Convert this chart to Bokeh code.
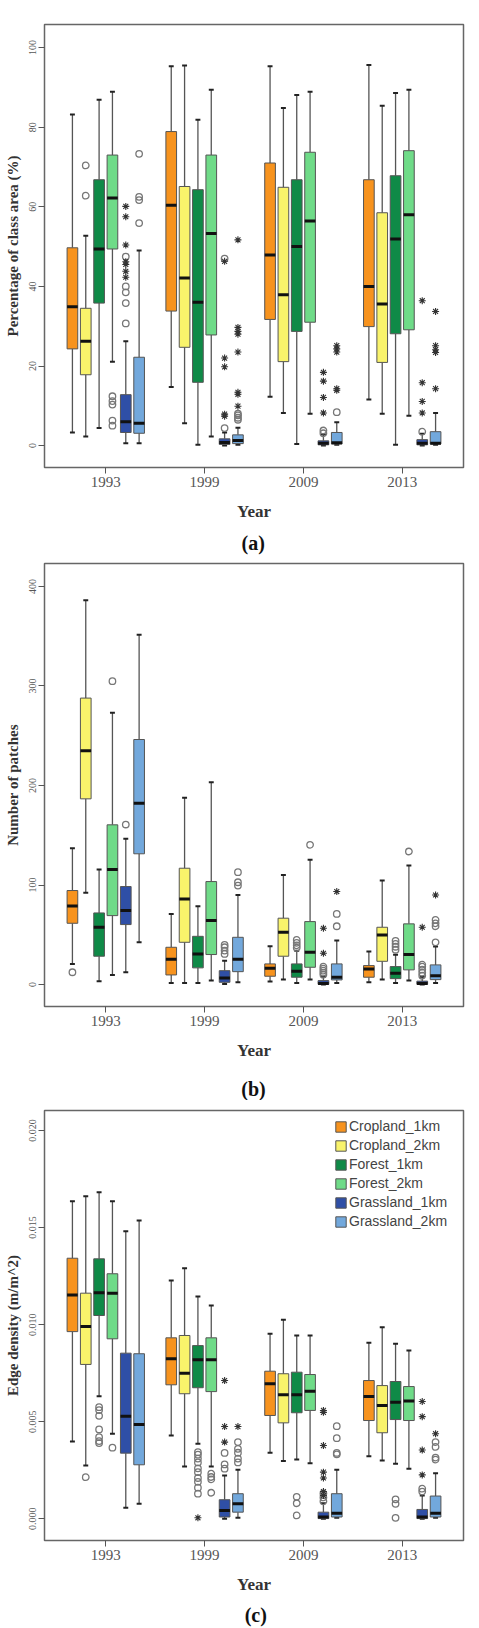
from bokeh.plotting import figure
from bokeh.models import ColumnDataSource, FixedTicker, Legend, LegendItem, Range1d, NumeralTickFormatter
from bokeh.core.properties import value
from bokeh.layouts import column
from bokeh.embed import file_html
from bokeh.resources import INLINE

YEARS = ["1993", "1999", "2009", "2013"]
SERIES = ["Cropland_1km", "Cropland_2km", "Forest_1km", "Forest_2km", "Grassland_1km", "Grassland_2km"]
COLORS = ["#F7931E", "#F9F36B", "#0F8A47", "#6FDB88", "#2F4FA6", "#72A8DC"]
CAPTIONS = ["(a)", "(b)", "(c)"]

# ---------------- Panel (a): Percentage of class area (%) ----------------
# rows = series, columns = years
A_LOW = [[3.3, 14.7, 12.3, 11.6], [2.3, 5.6, 8.2, 8.0], [4.4, 0.2, 0.4, 0.2],
         [21.1, 2.3, 8.0, 7.5], [0.6, 0.0, 0.0, 0.0], [0.6, 0.2, 0.2, 0.2]]
A_Q1 = [[24.3, 33.8, 31.7, 29.9], [17.8, 24.7, 21.1, 20.9], [35.8, 15.9, 28.7, 28.1],
        [49.4, 27.8, 31.0, 29.1], [3.3, 0.3, 0.2, 0.2], [3.1, 0.5, 0.4, 0.4]]
A_MED = [[34.9, 60.4, 47.9, 40.0], [26.2, 42.1, 37.9, 35.6], [49.4, 36.0, 50.0, 51.9],
         [62.2, 53.3, 56.4, 58.0], [6.0, 0.8, 0.6, 0.6], [5.6, 1.3, 0.7, 0.6]]
A_Q3 = [[49.7, 78.9, 71.0, 66.8], [34.5, 65.1, 64.9, 58.5], [66.8, 64.3, 66.8, 67.8],
        [73.0, 73.0, 73.7, 74.1], [12.8, 1.7, 1.2, 1.5], [22.2, 2.7, 3.3, 3.5]]
A_HIGH = [[83.2, 95.3, 95.3, 95.6], [52.7, 95.5, 84.8, 85.4], [86.9, 81.9, 88.1, 88.6],
          [88.9, 89.4, 88.9, 89.4], [26.2, 3.3, 2.8, 3.0], [49.0, 4.5, 5.9, 8.2]]
# outliers: (series index, year index, value)
A_CIRCLES = [(1, 0, 70.4), (1, 0, 62.8),
             (3, 0, 12.4), (3, 0, 11.2), (3, 0, 10.3), (3, 0, 6.3), (3, 0, 5.0),
             (4, 0, 30.7), (4, 0, 35.8), (4, 0, 38.5), (4, 0, 40.0), (4, 0, 47.5),
             (5, 0, 73.3), (5, 0, 62.5), (5, 0, 61.7), (5, 0, 55.9),
             (4, 1, 4.4), (4, 1, 47.0),
             (5, 1, 6.5), (5, 1, 7.0), (5, 1, 7.6), (5, 1, 8.0),
             (4, 2, 3.1), (4, 2, 3.8), (5, 2, 8.4), (4, 3, 3.5)]
A_STARS = [(4, 0, 42.3), (4, 0, 43.8), (4, 0, 45.5), (4, 0, 46.2), (4, 0, 50.4), (4, 0, 57.5), (4, 0, 60.1),
           (4, 1, 7.4), (4, 1, 7.9), (4, 1, 19.8), (4, 1, 22.0), (4, 1, 46.3),
           (5, 1, 9.9), (5, 1, 12.9), (5, 1, 13.4), (5, 1, 23.5), (5, 1, 28.0), (5, 1, 28.7), (5, 1, 29.7), (5, 1, 51.7),
           (4, 2, 8.2), (4, 2, 12.1), (4, 2, 16.2), (4, 2, 18.4),
           (5, 2, 13.9), (5, 2, 14.3), (5, 2, 23.5), (5, 2, 24.3), (5, 2, 25.1),
           (4, 3, 8.2), (4, 3, 11.1), (4, 3, 15.8), (4, 3, 36.4),
           (5, 3, 14.3), (5, 3, 23.4), (5, 3, 24.1), (5, 3, 25.1), (5, 3, 33.7)]
A_TICKS = [0, 20, 40, 60, 80, 100]

# ---------------- Panel (b): Number of patches ----------------
B_LOW = [[20.8, 1.7, 3.0, 2.3], [92.2, 1.7, 5.0, 5.0], [3.4, 1.7, 1.7, 1.7],
         [9.7, 4.0, 5.0, 4.0], [12.4, 0.5, 0.0, 0.0], [42.5, 2.3, 1.7, 1.7]]
B_Q1 = [[61.6, 9.7, 8.4, 7.4], [186.6, 42.5, 28.5, 23.4], [28.5, 16.8, 7.4, 6.0],
        [69.3, 30.2, 17.4, 14.8], [60.3, 2.3, 0.3, 0.3], [131.4, 13.0, 4.7, 5.0]]
B_MED = [[79.0, 25.5, 16.4, 15.7], [235.0, 86.1, 52.6, 49.9], [57.6, 30.8, 13.4, 11.4],
         [115.6, 64.3, 32.5, 30.2], [74.4, 6.7, 1.0, 1.0], [182.2, 25.5, 7.4, 9.0]]
B_Q3 = [[94.5, 37.5, 20.8, 19.1], [287.8, 116.9, 66.7, 57.6], [72.0, 48.5, 20.8, 18.1],
        [160.5, 103.5, 63.3, 61.0], [98.5, 14.0, 4.0, 3.5], [246.2, 47.5, 20.8, 19.8]]
B_HIGH = [[137.0, 71.0, 38.5, 33.2], [386.0, 187.6, 110.0, 104.5], [115.6, 78.7, 34.0, 30.0],
          [273.0, 203.3, 125.3, 119.6], [146.4, 24.0, 8.0, 8.0], [351.4, 90.1, 44.2, 38.2]]
B_CIRCLES = [(0, 0, 12.4), (3, 0, 304.8), (4, 0, 160.8),
             (4, 1, 30.8), (4, 1, 34.2), (4, 1, 37.5), (4, 1, 39.9),
             (5, 1, 99.5), (5, 1, 102.8), (5, 1, 112.9),
             (2, 2, 37.0), (2, 2, 39.5), (2, 2, 42.0), (2, 2, 44.9), (3, 2, 140.4),
             (4, 2, 10.0), (4, 2, 12.0), (4, 2, 14.0), (4, 2, 16.0), (4, 2, 18.0),
             (5, 2, 58.6), (5, 2, 71.0),
             (2, 3, 35.0), (2, 3, 38.0), (2, 3, 41.0), (2, 3, 44.0), (3, 3, 133.7),
             (4, 3, 9.0), (4, 3, 12.0), (4, 3, 15.0), (4, 3, 18.0), (4, 3, 20.0),
             (5, 3, 42.5), (5, 3, 58.6), (5, 3, 61.6), (5, 3, 65.0)]
B_STARS = [(4, 2, 31.5), (4, 2, 56.6), (5, 2, 93.5), (4, 3, 57.6), (5, 3, 90.0)]
B_TICKS = [0, 100, 200, 300, 400]

# ---------------- Panel (c): Edge density (m/m^2) ----------------
C_LOW = [[0.00398, 0.00429, 0.00340, 0.00322], [0.00274, 0.00269, 0.00297, 0.00300],
         [0.00631, 0.00386, 0.00305, 0.00283], [0.00438, 0.00269, 0.00286, 0.00258],
         [0.00057, 0.00000, 0.00000, 0.00000], [0.00077, 0.00005, 0.00005, 0.00005]]
C_Q1 = [[0.00964, 0.00690, 0.00532, 0.00506], [0.00795, 0.00644, 0.00494, 0.00443],
        [0.01047, 0.00675, 0.00546, 0.00511], [0.00927, 0.00655, 0.00558, 0.00506],
        [0.00338, 0.00009, 0.00001, 0.00001], [0.00278, 0.00034, 0.00009, 0.00009]]
C_MED = [[0.01153, 0.00824, 0.00695, 0.00630], [0.00990, 0.00750, 0.00639, 0.00584],
         [0.01164, 0.00819, 0.00639, 0.00600], [0.01162, 0.00819, 0.00657, 0.00606],
         [0.00528, 0.00043, 0.00009, 0.00009], [0.00486, 0.00077, 0.00029, 0.00029]]
C_Q3 = [[0.01342, 0.00932, 0.00760, 0.00712], [0.01162, 0.00944, 0.00747, 0.00686],
        [0.01339, 0.00892, 0.00755, 0.00707], [0.01262, 0.00932, 0.00743, 0.00681],
        [0.00853, 0.00098, 0.00034, 0.00048], [0.00850, 0.00129, 0.00129, 0.00117]]
C_HIGH = [[0.01636, 0.01227, 0.00953, 0.00906], [0.01661, 0.01290, 0.01025, 0.00987],
          [0.01682, 0.01145, 0.00944, 0.00901], [0.01636, 0.01098, 0.00944, 0.00867],
          [0.01481, 0.00223, 0.00080, 0.00120], [0.01536, 0.00252, 0.00252, 0.00234]]
C_CIRCLES = [(1, 0, 0.00214),
             (2, 0, 0.00575), (2, 0, 0.00560), (2, 0, 0.00530), (2, 0, 0.00460), (2, 0, 0.00420), (2, 0, 0.00400), (2, 0, 0.00390),
             (3, 0, 0.00366),
             (2, 1, 0.00343), (2, 1, 0.00330), (2, 1, 0.00310), (2, 1, 0.00290), (2, 1, 0.00260),
             (2, 1, 0.00240), (2, 1, 0.00210), (2, 1, 0.00190), (2, 1, 0.00160), (2, 1, 0.00129),
             (3, 1, 0.00232), (3, 1, 0.00215), (3, 1, 0.00203), (3, 1, 0.00134),
             (4, 1, 0.00258), (4, 1, 0.00280), (4, 1, 0.00339),
             (5, 1, 0.00395), (5, 1, 0.00360), (5, 1, 0.00340), (5, 1, 0.00310), (5, 1, 0.00290),
             (2, 2, 0.00113), (2, 2, 0.00080), (2, 2, 0.00017),
             (4, 2, 0.00090), (4, 2, 0.00110), (4, 2, 0.00130),
             (5, 2, 0.00477), (5, 2, 0.00415), (5, 2, 0.00339), (5, 2, 0.00332),
             (2, 3, 0.00100), (2, 3, 0.00077), (2, 3, 0.00005),
             (4, 3, 0.00140), (4, 3, 0.00155),
             (5, 3, 0.00395), (5, 3, 0.00370), (5, 3, 0.00315), (5, 3, 0.00305)]
C_STARS = [(2, 1, 0.00005), (4, 1, 0.00395), (4, 1, 0.00475), (4, 1, 0.00712), (5, 1, 0.00475),
           (4, 2, 0.00120), (4, 2, 0.00140), (4, 2, 0.00210), (4, 2, 0.00240), (4, 2, 0.00377), (4, 2, 0.00548), (4, 2, 0.00558),
           (4, 3, 0.00226), (4, 3, 0.00354), (4, 3, 0.00526), (4, 3, 0.00604), (5, 3, 0.00438)]
C_TICKS = [0.0, 0.005, 0.010, 0.015, 0.020]

STEP = 0.135   # offset between boxes within a year group (group units)
BOX_W = 0.108
CAP_W = 0.05
SERIF = "Liberation Serif"


def xpos(s, y):
    return y + (s - 2.5) * STEP


def make_panel(low, q1, med, q3, high, circles, stars, ticks, yrange, ylabel,
               width, height, mb_left, mb_right, mb_top, mb_bottom, fmt=None, legend=False):
    p = figure(width=width, height=height, output_backend="svg", toolbar_location=None,
               x_range=Range1d(-0.62, 3.62), y_range=Range1d(*yrange),
               min_border_left=mb_left, min_border_right=mb_right,
               min_border_top=mb_top, min_border_bottom=mb_bottom)
    p.grid.visible = False
    p.outline_line_color = "#666666"
    p.outline_line_width = 1.5
    p.background_fill_color = "white"
    p.border_fill_color = "white"

    xs, lo, a, m, b, hi, col = [], [], [], [], [], [], []
    for s in range(len(SERIES)):
        for y in range(len(YEARS)):
            xs.append(xpos(s, y))
            lo.append(low[s][y]); a.append(q1[s][y]); m.append(med[s][y])
            b.append(q3[s][y]); hi.append(high[s][y]); col.append(COLORS[s])
    src = ColumnDataSource(dict(x=xs, low=lo, q1=a, med=m, q3=b, high=hi, color=col,
                                xl=[v - BOX_W / 2 for v in xs], xr=[v + BOX_W / 2 for v in xs],
                                cl=[v - CAP_W / 2 for v in xs], cr=[v + CAP_W / 2 for v in xs]))
    p.segment(x0="x", y0="q3", x1="x", y1="high", source=src, line_color="#555555", line_width=1.3)
    p.segment(x0="x", y0="low", x1="x", y1="q1", source=src, line_color="#555555", line_width=1.3)
    p.segment(x0="cl", y0="high", x1="cr", y1="high", source=src, line_color="#222222", line_width=2)
    p.segment(x0="cl", y0="low", x1="cr", y1="low", source=src, line_color="#222222", line_width=2)
    boxes = p.vbar(x="x", width=BOX_W, bottom="q1", top="q3", source=src,
                   fill_color="color", line_color="#555555", line_width=1)
    p.segment(x0="xl", y0="med", x1="xr", y1="med", source=src, line_color="#111111", line_width=3)

    cx = [xpos(s, y) for s, y, v in circles]
    cy = [v for s, y, v in circles]
    p.scatter(cx, cy, marker="circle", size=6.5, fill_color=None, line_color="#777777", line_width=1.3)
    sx = [xpos(s, y) for s, y, v in stars]
    sy = [v for s, y, v in stars]
    p.scatter(sx, sy, marker="asterisk", size=7, line_color="#333333", line_width=1.1)

    xa = p.xaxis[0]
    xa.ticker = FixedTicker(ticks=[0, 1, 2, 3])
    xa.major_label_overrides = {i: YEARS[i] for i in range(4)}
    xa.axis_label = "Year"
    xa.axis_label_text_font = SERIF
    xa.axis_label_text_font_style = "bold"
    xa.axis_label_text_font_size = "17px"
    xa.axis_label_text_color = "#333333"
    xa.axis_label_standoff = 12
    xa.major_label_text_font = SERIF
    xa.major_label_text_font_size = "15px"
    xa.major_label_text_color = "#555555"
    xa.major_label_standoff = 3
    xa.axis_line_color = None
    xa.major_tick_in = 0
    xa.major_tick_out = 6
    xa.major_tick_line_color = "#555555"
    xa.minor_tick_line_color = None

    ya = p.yaxis[0]
    ya.ticker = FixedTicker(ticks=ticks)
    if fmt:
        ya.formatter = NumeralTickFormatter(format=fmt)
    ya.axis_label = ylabel
    ya.axis_label_text_font = SERIF
    ya.axis_label_text_font_style = "bold"
    ya.axis_label_text_font_size = "15px"
    ya.axis_label_text_color = "#333333"
    ya.axis_label_standoff = 6
    ya.major_label_orientation = "vertical"
    ya.major_label_text_font = SERIF
    ya.major_label_text_font_size = "10px"
    ya.major_label_text_color = "#555555"
    ya.major_label_standoff = 2
    ya.axis_line_color = None
    ya.major_tick_in = 0
    ya.major_tick_out = 6
    ya.major_tick_line_color = "#555555"
    ya.minor_tick_line_color = None

    if legend:
        items = [LegendItem(label=SERIES[s], renderers=[boxes], index=s * len(YEARS)) for s in range(len(SERIES))]
        lg = Legend(items=items, location=(290, 311), glyph_width=13, glyph_height=13,
                    label_text_font="Liberation Sans", label_text_font_size="14px",
                    label_text_color="#444444", label_standoff=2, label_height=16, spacing=3,
                    padding=0, margin=0, border_line_color=None, background_fill_alpha=0)
        p.add_layout(lg, "center")
    return p


def make_caption(text, height, cx, cy):
    c = figure(width=479, height=height, output_backend="svg", toolbar_location=None,
               x_range=Range1d(0, 479), y_range=Range1d(0, height),
               x_axis_type=None, y_axis_type=None, min_border=0)
    c.grid.visible = False
    c.outline_line_color = None
    c.text(x=[cx], y=[cy], text=[text], text_font=value(SERIF), text_font_size="20px",
           text_font_style="bold", text_color="#111111", text_align="center", text_baseline="middle")
    return c


pa = make_panel(A_LOW, A_Q1, A_MED, A_Q3, A_HIGH, A_CIRCLES, A_STARS, A_TICKS, (-5.5, 105.8),
                "Percentage of class area (%)", 479, 530, 44, 4, 24, 63)
ca = make_caption(CAPTIONS[0], 25, 238.5, 13)
pb = make_panel(B_LOW, B_Q1, B_MED, B_Q3, B_HIGH, B_CIRCLES, B_STARS, B_TICKS, (-22, 423),
                "Number of patches", 479, 511, 44, 4, 8, 60)
cb = make_caption(CAPTIONS[1], 34, 239, 12)
pc = make_panel(C_LOW, C_Q1, C_MED, C_Q3, C_HIGH, C_CIRCLES, C_STARS, C_TICKS, (-0.00112, 0.02103),
                "Edge density (m/m^2)", 479, 500, 42, 16, 10, 60, fmt="0.000", legend=True)
cc = make_caption(CAPTIONS[2], 28, 241.5, 14)

layout = column(pa, ca, pb, cb, pc, cc, spacing=0)
open("out.html", "w").write(file_html(layout, INLINE))
